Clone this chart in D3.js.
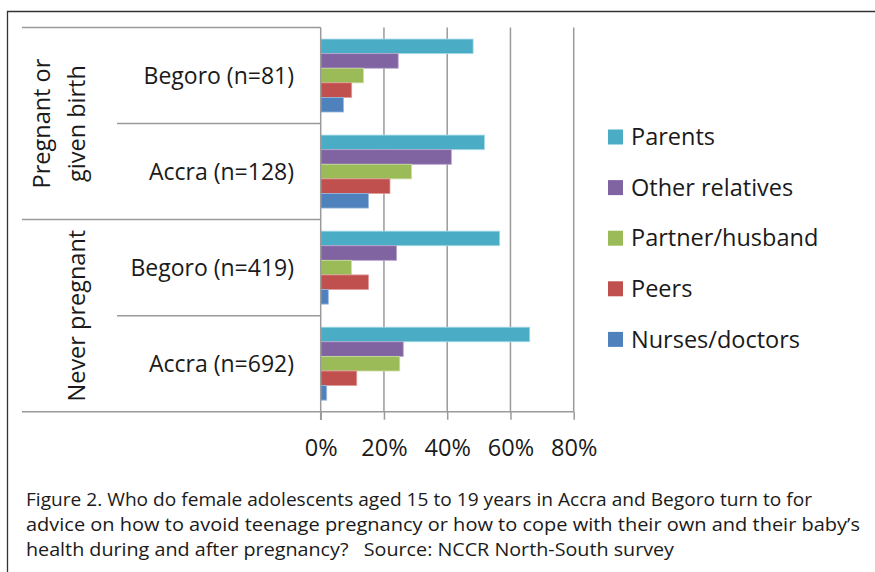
<!DOCTYPE html>
<html>
<head>
<meta charset="utf-8">
<script src="https://cdn.jsdelivr.net/npm/d3@7"></script>
<style>
  body { margin: 0; background: #fff; }
  svg { display: block; }
  text { fill: #1a1a1a; }
</style>
</head>
<body>
<div id="chart"></div>
<script>
// categories top to bottom
var categories = ["Begoro (n=81)", "Accra (n=128)", "Begoro (n=419)", "Accra (n=692)"];
var groups = [
  { label: ["Pregnant or", "given birth"], cats: ["Begoro (n=81)", "Accra (n=128)"] },
  { label: ["Never pregnant"], cats: ["Begoro (n=419)", "Accra (n=692)"] }
];
// series in the order they stack inside a band (top to bottom)
var seriesNames = ["Parents", "Other relatives", "Partner/husband", "Peers", "Nurses/doctors"];
var seriesColors = ["#4bacc6", "#8064a2", "#9bbb59", "#c0504d", "#4f81bd"];
var seriesEdges = ["#a9dbe8", "#b6a4cc", "#cadd9f", "#e09a98", "#9ab8de"];

var parents        = [0.482, 0.518, 0.566, 0.661];
var otherRelatives = [0.245, 0.413, 0.240, 0.261];
var partner        = [0.135, 0.287, 0.097, 0.250];
var peers          = [0.098, 0.219, 0.151, 0.114];
var nurses         = [0.072, 0.151, 0.024, 0.019];
var seriesValues = [parents, otherRelatives, partner, peers, nurses];

var xTicks = [0, 0.2, 0.4, 0.6, 0.8];

var caption = [
  "Figure 2. Who do female adolescents aged 15 to 19 years in Accra and Begoro turn to for",
  "advice on how to avoid teenage pregnancy or how to cope with their own and their baby\u2019s",
  "health during and after pregnancy?   Source: NCCR North-South survey"
];

var width = 875, height = 572;
var svg = d3.select("#chart").append("svg").attr("width", width).attr("height", height);

// frame (top and left edges only)
svg.append("path")
  .attr("d", "M7.5,572 V11.5 H875")
  .attr("fill", "none").attr("stroke", "#333").attr("stroke-width", 1.3);

var font = "'Open Sans', sans-serif";
var x = d3.scaleLinear().domain([0, 0.8]).range([320.7, 573.7]);
var y = d3.scaleBand().domain(categories).range([27.5, 411.7]);
var yInner = d3.scaleBand().domain(seriesNames).range([0, y.bandwidth()]).paddingOuter(0.79);

// gridlines
svg.append("g")
  .selectAll("line").data(xTicks.slice(1)).join("line")
  .attr("x1", d => x(d)).attr("x2", d => x(d))
  .attr("y1", 27.5).attr("y2", 411.7)
  .attr("stroke", "#9a9a9a").attr("stroke-width", 1.5);

// bars
var rows = [];
categories.forEach(function(c, i) {
  seriesNames.forEach(function(s, j) {
    rows.push({ cat: c, series: s, value: seriesValues[j][i], color: seriesColors[j], edge: seriesEdges[j] });
  });
});
svg.append("g").selectAll("rect").data(rows).join("rect")
  .attr("x", x(0))
  .attr("y", d => y(d.cat) + yInner(d.series))
  .attr("width", d => x(d.value) - x(0))
  .attr("height", yInner.bandwidth())
  .attr("fill", d => d.color)
  .attr("stroke", d => d.edge).attr("stroke-width", 0.8);

// x axis
var xAxis = d3.axisBottom(x).tickValues(xTicks).tickFormat(d3.format(".0%"))
  .tickSize(8).tickPadding(20);
var gx = svg.append("g").attr("transform", "translate(0," + 411.7 + ")").call(xAxis);
gx.select(".domain").remove();
gx.selectAll(".tick line").attr("stroke", "#9a9a9a").attr("stroke-width", 1.5);
gx.selectAll(".tick text").attr("font-family", font).attr("font-size", 23.5).attr("fill", "#1a1a1a");

// category table lines
var lineColor = "#9a9a9a";
svg.append("line").attr("x1", x(0)).attr("x2", x(0)).attr("y1", 27.5).attr("y2", 420)
  .attr("stroke", lineColor).attr("stroke-width", 1.5);
svg.append("line").attr("x1", 22).attr("x2", x(0.8)).attr("y1", 411.7).attr("y2", 411.7)
  .attr("stroke", lineColor).attr("stroke-width", 1.5);
var groupEdges = [y(groups[0].cats[0]), y(groups[1].cats[0])];
svg.append("g").selectAll("line").data(groupEdges).join("line")
  .attr("x1", 22).attr("x2", x(0)).attr("y1", d => d).attr("y2", d => d)
  .attr("stroke", lineColor).attr("stroke-width", 1.5);
var innerEdges = [y(groups[0].cats[1]), y(groups[1].cats[1])];
svg.append("g").selectAll("line").data(innerEdges).join("line")
  .attr("x1", 117).attr("x2", x(0)).attr("y1", d => d).attr("y2", d => d)
  .attr("stroke", lineColor).attr("stroke-width", 1.5);

// category labels
svg.append("g").selectAll("text").data(categories).join("text")
  .attr("x", 294).attr("y", d => y(d) + y.bandwidth() / 2)
  .attr("dy", "0.35em").attr("text-anchor", "end")
  .attr("font-family", font).attr("font-size", 23)
  .text(d => d);

// group labels (rotated); last line sits in the same column for every group
groups.forEach(function(g) {
  var top = y(g.cats[0]);
  var bottom = y(g.cats[g.cats.length - 1]) + y.bandwidth();
  var cy = (top + bottom) / 2;
  var n = g.label.length;
  var t = svg.append("text")
    .attr("transform", "translate(" + 77 + "," + cy + ") rotate(-90)")
    .attr("text-anchor", "middle")
    .attr("font-family", font).attr("font-size", 23.5);
  g.label.forEach(function(l, k) {
    t.append("tspan").attr("x", 0)
      .attr("y", (k - (n - 1)) * 35)
      .attr("dy", "0.35em")
      .text(l);
  });
});

// legend
var legend = svg.append("g").selectAll("g").data(seriesNames).join("g")
  .attr("transform", (d, i) => "translate(608," + (137 + i * 50.6) + ")");
legend.append("rect").attr("x", 0).attr("y", -7.5).attr("width", 15).attr("height", 15)
  .attr("fill", (d, i) => seriesColors[i]);
legend.append("text").attr("x", 23).attr("dy", "0.35em")
  .attr("font-family", font).attr("font-size", 23.5)
  .text(d => d);

// caption
var captionWidths = [786, 834, 648];
svg.append("g").selectAll("text").data(caption).join("text")
  .attr("x", 26).attr("y", (d, i) => 506 + i * 25)
  .attr("font-family", "'Open Sans', sans-serif").attr("font-size", 18)
  .attr("textLength", (d, i) => captionWidths[i])
  .attr("lengthAdjust", "spacingAndGlyphs")
  .style("white-space", "pre")
  .attr("fill", "#1a1a1a")
  .text(d => d);
</script>
</body>
</html>
